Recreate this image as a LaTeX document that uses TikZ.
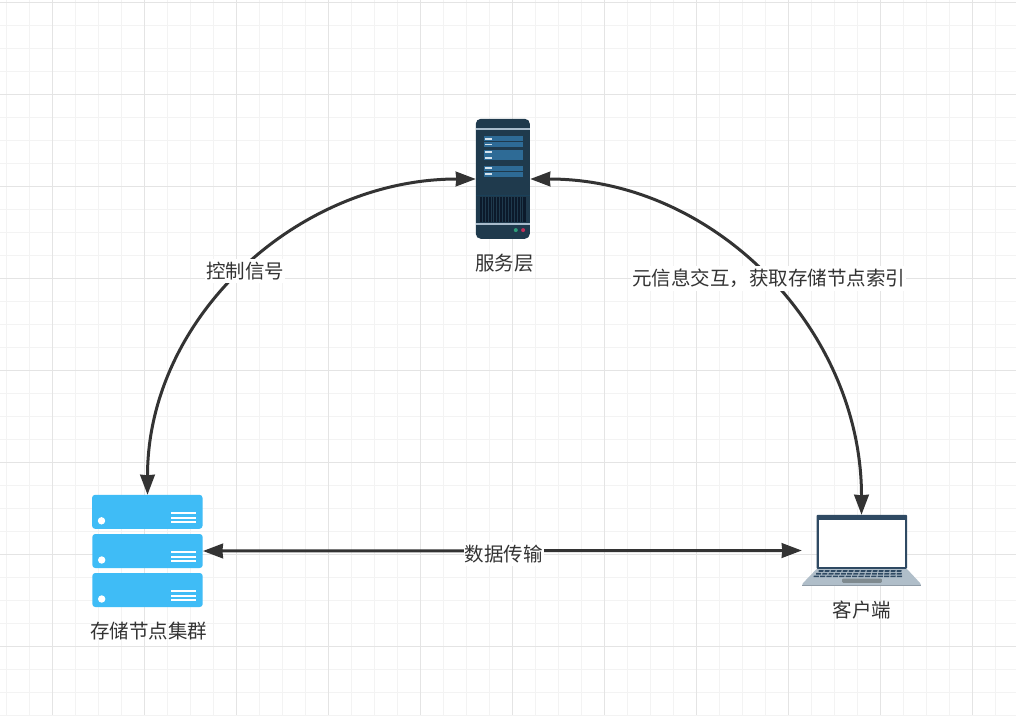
\documentclass[tikz,border=0pt]{standalone}
\usepackage{fontspec}
\setmainfont{Noto Sans CJK SC}
\usepackage{xcolor}
\definecolor{LINECOLOR}{HTML}{333333}
\definecolor{MINORCOLOR}{HTML}{F3F3F3}
\definecolor{MAJORCOLOR}{HTML}{E4E4E4}
\definecolor{SERVERCOLOR}{HTML}{1F3A4D}
\definecolor{BANDCOLOR}{HTML}{A9BCCC}
\definecolor{PANELCOLOR}{HTML}{2E6B96}
\definecolor{DASHCOLOR}{HTML}{D5E3EE}
\definecolor{SHELFCOLOR}{HTML}{1A4059}
\definecolor{VENTCOLOR}{HTML}{0C1A2B}
\definecolor{GREENCOLOR}{HTML}{2E9E7A}
\definecolor{REDCOLOR}{HTML}{C2305A}
\definecolor{STORECOLOR}{HTML}{3FBCF6}
\definecolor{SCREENCOLOR}{HTML}{2F4A63}
\definecolor{BASECOLOR}{HTML}{B0BEC9}
\definecolor{EDGECOLOR}{HTML}{8F9BA6}
\definecolor{PADCOLOR}{HTML}{7F8A8F}
\usetikzlibrary{arrows.meta,positioning}
\tikzset{
  minor-style/.style = {draw=MINORCOLOR, line width=1pt},
  major-style/.style = {draw=MAJORCOLOR, line width=1pt},
  icon-style/.style = {
    rectangle, inner sep=0pt, minimum width=#1
  },
  caption-style/.style = {
    text=LINECOLOR, font=\fontsize{19.5pt}{22pt}\selectfont, inner sep=0pt
  },
  label-style/.style = {
    caption-style, fill=white, inner xsep=1pt, inner ysep=3pt
  },
  link-style/.style = {
    draw=LINECOLOR, line width=3pt,
    {Stealth[length=20pt,width=14.5pt,inset=0.5pt]}-{Stealth[length=20pt,width=14.5pt,inset=0.5pt]}
  }
}
% server, origin at its north west corner
\newcommand\createServer[1]{
  \begin{scope}[shift={(#1)}]
    \fill[SERVERCOLOR,rounded corners=5pt] (0,0) rectangle (54,120);
    \fill[BANDCOLOR] (0,9.3) rectangle (54,10.8);
    \foreach \y in {17.3,23,30.7,36.3,46.7,52.7} {
      \fill[PANELCOLOR] (7.7,\y) rectangle (46.7,\y+5.3);
      \fill[DASHCOLOR] (9,\y+1.8) rectangle (16.3,\y+3.5);
    }
    \fill[SHELFCOLOR] (0,76) rectangle (54,77.5);
    \fill[VENTCOLOR] (4,78.3) rectangle (49.7,103);
    \foreach \x in {6,8.9,...,48} {
      \fill[SERVERCOLOR] (\x,78.3) rectangle (\x+0.9,103);
    }
    \fill[BANDCOLOR] (0,104) rectangle (54,105.8);
    \fill[GREENCOLOR] (40,111.3) circle (2pt);
    \fill[REDCOLOR] (47.3,111.3) circle (2pt);
  \end{scope}
}
% one storage unit, origin at its north west corner
\newcommand\createStore[1]{
  \begin{scope}[shift={(#1)}]
    \fill[STORECOLOR,rounded corners=3pt] (0,0) rectangle (110.4,34);
    \fill[white] (9.4,26) circle (3.7pt);
    \foreach \y in {18,22.7,26.7} {
      \fill[white] (78.7,\y-1) rectangle (103.4,\y+1);
    }
  \end{scope}
}
% laptop, origin at its north west corner
\newcommand\createLaptop[1]{
  \begin{scope}[shift={(#1)}]
    \fill[BASECOLOR,rounded corners=1pt] (15,54) -- (105,54) -- (119,69) -- (119,71) -- (0.5,71) -- (0.5,69) -- cycle;
    \fill[EDGECOLOR] (0.5,69.8) rectangle (119,71);
    \fill[SCREENCOLOR,rounded corners=1pt] (14.7,0) rectangle (105.3,54);
    \fill[white] (17,5) rectangle (103,51.7);
    \foreach \y/\l/\k in {55.3/17/6.0,58/14.5/6.2,60.7/12/6.4} {
      \foreach \i in {0,...,13} {
        \fill[SCREENCOLOR] ({\l+\i*\k},\y) -- ({\l+\i*\k+\k-1.2},\y) -- ({\l+\i*\k+\k-1.5},\y+1.7) -- ({\l+\i*\k-0.3},\y+1.7) -- cycle;
      }
    }
    \fill[PADCOLOR,rounded corners=1pt] (40.3,63.7) rectangle (80,68);
  \end{scope}
}

\begin{document}
\begin{tikzpicture}[x=1pt,y=-1pt]
    \useasboundingbox[fill=white] (0,0) rectangle (1016,715);

    %%% grid
    \foreach \x in {6,29,...,1016} {\draw[minor-style] (\x,0) -- (\x,715);}
    \foreach \y in {2,25,...,715} {\draw[minor-style] (0,\y) -- (1016,\y);}
    \foreach \x in {52,144,...,1016} {\draw[major-style] (\x,0) -- (\x,715);}
    \foreach \y in {2,94,...,715} {\draw[major-style] (0,\y) -- (1016,\y);}

    %%% icons
    \node[icon-style=54pt,minimum height=120pt] (server) at (503,179) {};
    \node[icon-style=110.4pt,minimum height=112pt] (storage) at (147.5,551) {};
    \node[icon-style=119pt,minimum height=71pt] (client) at (861.5,550.5) {};
    \createServer{server.north west}
    \createStore{storage.north west}
    \createStore{92.3,534}
    \createStore{92.3,573}
    \createLaptop{client.north west}

    %%% captions
    \node[caption-style,below=15pt of server,xshift=1.5pt] (serverText) {服务层};
    \node[caption-style,below=15pt of storage,xshift=1pt] (storageText) {存储节点集群};
    \node[caption-style,below=15pt of client,xshift=0.5pt] (clientText) {客户端};

    %%% arrows
    \path (server.west) edge[link-style,out=180,in=90] node[label-style,yshift=-1pt,xshift=0.5pt] (controlText) {控制信号} (storage.north);
    \path (server.east) edge[link-style,out=0,in=90] node[label-style,xshift=3.5pt,yshift=-1pt] (metaText) {元信息交互，获取存储节点索引} (client.north);
    \path (storage.east) edge[link-style] node[label-style,xshift=1.5pt,yshift=-3pt] (dataText) {数据传输} (client.west);
\end{tikzpicture}
\end{document}
